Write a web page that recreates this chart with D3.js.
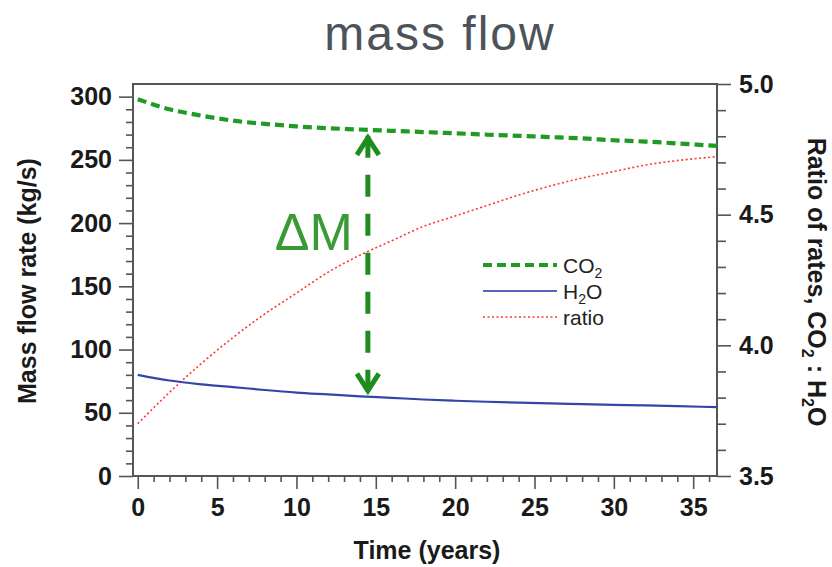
<!DOCTYPE html>
<html><head><meta charset="utf-8">
<script src="https://cdn.jsdelivr.net/npm/d3@7"></script>
<style>
body{margin:0;background:#fff}
svg{display:block}
text{font-family:"Liberation Sans",Arial,Helvetica,sans-serif}
</style>
</head><body>
<svg id="c" width="832" height="567"></svg>
<script>
// ---- data ----
const years = [0,2,4,6,8,10,12,14,16,18,20,22,24,26,28,30,32,34,36.5];
const co2   = [298,290,285,281,278.5,276.5,275,274,273,272,271,270,269,268,267,265.5,264.5,263,261];
const h2o   = [80,75.5,72.5,70.3,68,66,64.5,63,61.8,60.5,59.5,58.7,58,57.4,56.8,56.3,55.8,55.2,54.5];
const ratio = [3.70,3.82,3.93,4.03,4.12,4.20,4.28,4.345,4.40,4.455,4.495,4.535,4.575,4.61,4.64,4.665,4.69,4.707,4.722];
const xTicks = [0,5,10,15,20,25,30,35];
const yLeftTicks = [0,50,100,150,200,250,300];
const yRightTicks = [3.5,4.0,4.5,5.0];
const arrowYear = 14.5;
const titleText = "mass flow";

// ---- layout ----
const L = 133, R = 717, T = 84, B = 476;
const svg = d3.select("#c");

const x  = d3.scaleLinear().domain([-0.3, 36.5]).range([L, R]);
const yL = d3.scaleLinear().domain([0, 310]).range([B, T]);
const yR = d3.scaleLinear().domain([3.5, 5.0]).range([B, T]);

const axisColor = "#555";
function styleAxis(g){
  g.select(".domain").remove();
  g.selectAll(".tick line").attr("stroke", axisColor).attr("stroke-width", 1.6);
  g.selectAll(".tick text").attr("fill", "#1a1a1a")
    .style("font-size", "25px").style("font-weight", "bold");
}

// minor ticks
svg.append("g").attr("transform", `translate(0,${B})`)
  .call(d3.axisBottom(x).tickValues(d3.range(0,37).filter(d => d % 5)).tickSize(6).tickFormat(""))
  .call(styleAxis);
svg.append("g").attr("transform", `translate(${L},0)`)
  .call(d3.axisLeft(yL).tickValues(d3.range(0,301,10).filter(d => d % 50)).tickSize(7).tickFormat(""))
  .call(styleAxis);
svg.append("g").attr("transform", `translate(${R},0)`)
  .call(d3.axisRight(yR).tickValues(d3.range(3.6,5.0,0.1).filter(d => Math.abs(d*2 - Math.round(d*2)) > 0.01)).tickSize(9).tickFormat(""))
  .call(styleAxis);

// major ticks + labels
svg.append("g").attr("transform", `translate(0,${B})`)
  .call(d3.axisBottom(x).tickValues(xTicks).tickSize(13).tickPadding(9).tickFormat(d3.format("d")))
  .call(styleAxis);
svg.append("g").attr("transform", `translate(${L},0)`)
  .call(d3.axisLeft(yL).tickValues(yLeftTicks).tickSize(14).tickPadding(7).tickFormat(d3.format("d")))
  .call(styleAxis);
svg.append("g").attr("transform", `translate(${R},0)`)
  .call(d3.axisRight(yR).tickValues(yRightTicks).tickSize(14).tickPadding(8).tickFormat(d3.format(".1f")))
  .call(styleAxis);

// frame
svg.append("rect").attr("x", L).attr("y", T).attr("width", R - L).attr("height", B - T)
  .attr("fill", "none").attr("stroke", axisColor).attr("stroke-width", 2);

// lines
const lineL = d3.line().x((d,i) => x(years[i])).y(d => yL(d)).curve(d3.curveMonotoneX);
const lineR = d3.line().x((d,i) => x(years[i])).y(d => yR(d)).curve(d3.curveMonotoneX);

svg.append("path").datum(ratio).attr("d", lineR).attr("fill","none")
  .attr("stroke", "#ff3535").attr("stroke-width", 1.6).attr("stroke-dasharray", "2,2.5");
svg.append("path").datum(h2o).attr("d", lineL).attr("fill","none")
  .attr("stroke", "#3346a8").attr("stroke-width", 2.2);
svg.append("path").datum(co2).attr("d", lineL).attr("fill","none")
  .attr("stroke", "#1f9a22").attr("stroke-width", 4.2).attr("stroke-dasharray", "9,5");

// ΔM arrow
const interp = (arr, t) => {
  const i = d3.bisectRight(years, t) - 1;
  const f = (t - years[i]) / (years[i+1] - years[i]);
  return arr[i] + f * (arr[i+1] - arr[i]);
};
const ax = x(arrowYear);
const yTop = yL(interp(co2, arrowYear)) + 6;
const yBot = yL(interp(h2o, arrowYear)) - 4;
const arrowColor = "#1e8c1e";
svg.append("line").attr("x1", ax).attr("x2", ax).attr("y1", yTop).attr("y2", yBot)
  .attr("stroke", arrowColor).attr("stroke-width", 5).attr("stroke-dasharray", "22,17");
svg.append("path").attr("d", `M${ax-11},${yTop+19}L${ax},${yTop+2}L${ax+11},${yTop+19}`)
  .attr("fill","none").attr("stroke", arrowColor).attr("stroke-width", 5);
svg.append("path").attr("d", `M${ax-11},${yBot-19}L${ax},${yBot-2}L${ax+11},${yBot-19}`)
  .attr("fill","none").attr("stroke", arrowColor).attr("stroke-width", 5);
svg.append("text").attr("x", ax - 15).attr("y", 250).attr("text-anchor", "end")
  .attr("fill", "#3a9a35").style("font-size", "52px").text("ΔM");

// legend
const legend = svg.append("g");
const legItems = [
  {name:["CO","2",""], stroke:"#1f9a22", w:4.2, dash:"9,5", y:265},
  {name:["H","2","O"], stroke:"#5568bd", w:2.2, dash:null, y:291},
  {name:["ratio","",""], stroke:"#ff3535", w:1.6, dash:"2,2.5", y:317}
];
legItems.forEach(it => {
  legend.append("line").attr("x1", 483).attr("x2", 557).attr("y1", it.y).attr("y2", it.y)
    .attr("stroke", it.stroke).attr("stroke-width", it.w).attr("stroke-dasharray", it.dash);
  const t = legend.append("text").attr("x", 563).attr("y", it.y + 7.5)
    .attr("fill", "#222").style("font-size", "21px");
  t.append("tspan").text(it.name[0]);
  if (it.name[1]) t.append("tspan").attr("dy", 5).style("font-size", "14px").text(it.name[1]);
  if (it.name[2]) t.append("tspan").attr("dy", -5).text(it.name[2]);
});

// titles
svg.append("text").attr("x", 440).attr("y", 50).attr("text-anchor", "middle")
  .attr("fill", "#4d535b").style("font-size", "48px").style("letter-spacing", "2px").text(titleText);
svg.append("text").attr("x", 427).attr("y", 559).attr("text-anchor", "middle")
  .attr("fill", "#1a1a1a").style("font-size", "25px").style("font-weight", "bold").text("Time (years)");
svg.append("text").attr("transform", "translate(36,281) rotate(-90)").attr("text-anchor", "middle")
  .attr("fill", "#1a1a1a").style("font-size", "25px").style("font-weight", "bold").text("Mass flow rate (kg/s)");
const rt = svg.append("text").attr("transform", "translate(808,282) rotate(90)").attr("text-anchor", "middle")
  .attr("fill", "#1a1a1a").style("font-size", "25px").style("font-weight", "bold");
rt.append("tspan").text("Ratio of rates, CO");
rt.append("tspan").attr("dy", 6).style("font-size", "16px").text("2");
rt.append("tspan").attr("dy", -6).text(" : H");
rt.append("tspan").attr("dy", 6).style("font-size", "16px").text("2");
rt.append("tspan").attr("dy", -6).text("O");
</script>
</body></html>
